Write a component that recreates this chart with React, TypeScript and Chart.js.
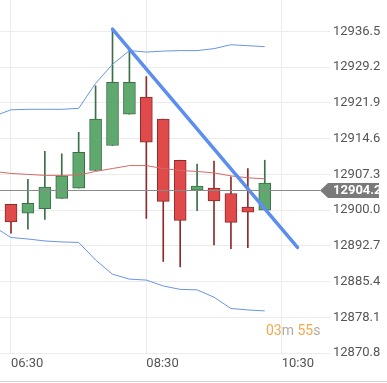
import React, { useEffect, useRef } from "react";
import { Chart, registerables } from "chart.js";
Chart.register(...registerables);

// ---- data ----
const candleTimes = ["06:30", "06:45", "07:00", "07:15", "07:30", "07:45", "08:00", "08:15", "08:30", "08:45", "09:00", "09:15", "09:30", "09:45", "10:00", "10:15"];
const opens = [12901.2, 12899.4, 12900.3, 12902.4, 12904.5, 12908.1, 12913.2, 12919.6, 12923.1, 12918.6, 12910.2, 12904.1, 12904.5, 12903.4, 12900.6, 12900.0];
const highs = [12901.2, 12906.3, 12912.0, 12911.5, 12915.9, 12925.4, 12937.0, 12932.7, 12927.3, 12918.6, 12910.2, 12909.4, 12910.0, 12906.8, 12908.5, 12910.2];
const lows = [12895.3, 12896.1, 12898.1, 12902.4, 12904.5, 12908.1, 12913.2, 12919.6, 12898.3, 12889.5, 12888.4, 12899.9, 12892.9, 12892.1, 12892.3, 12900.0];
const closes = [12897.6, 12901.4, 12904.7, 12907.0, 12911.8, 12918.6, 12926.1, 12926.1, 12913.9, 12901.8, 12897.9, 12904.9, 12901.9, 12897.5, 12899.6, 12905.5];

const bandTimes = ["06:15", "06:30", "06:45", "07:00", "07:15", "07:30", "07:45", "08:00", "08:15", "08:30", "08:45", "09:00", "09:15", "09:30", "09:45", "10:00", "10:15"];
const upperBand = [12919.2, 12920.5, 12920.6, 12920.6, 12920.6, 12920.8, 12925.9, 12929.8, 12932.6, 12932.3, 12932.5, 12932.6, 12932.6, 12933.0, 12933.8, 12933.6, 12933.4];
const middleBand = [12907.9, 12907.5, 12907.3, 12907.1, 12907.1, 12907.2, 12907.9, 12908.5, 12909.1, 12909.1, 12908.5, 12908.1, 12907.9, 12907.6, 12907.0, 12906.6, 12906.4];
const lowerBand = [12896.6, 12894.4, 12894.1, 12893.7, 12893.5, 12893.4, 12889.8, 12886.9, 12885.9, 12885.7, 12884.5, 12883.8, 12883.7, 12882.2, 12879.9, 12879.6, 12879.4];

const trendTimes = ["08:00", "10:44"];
const trendValues = [12937.0, 12892.4];

const yTickValues = [12870.8, 12878.1, 12885.4, 12892.7, 12900.0, 12907.3, 12914.6, 12921.9, 12929.2, 12936.5];
const xTickLabels = ["06:30", "08:30", "10:30"];
const currentPrice = 12904.2;
const countdownParts = [["03", "o"], ["m", "g"], [" 55", "o"], ["s", "g"]];

const X_MIN = 380.25;
const X_MAX = 668.4;
const Y_MIN = 12870.8;
const Y_MAX = 12942.94;

// ---- helpers ----
const toMin = (t: string) => {
  const [h, m] = t.split(":").map(Number);
  return h * 60 + m;
};
const fmtTime = (v: number) => {
  const h = Math.floor(v / 60);
  const m = Math.round(v - h * 60);
  return String(h).padStart(2, "0") + ":" + String(m).padStart(2, "0");
};

const GREEN = "#5fa96f";
const GREEN_DARK = "#3b6f47";
const RED = "#e04a4a";
const RED_DARK = "#8c2b2b";
const FONT = "Roboto";

export default function App() {
  const ref = useRef<HTMLCanvasElement | null>(null);

  useEffect(() => {
    if (!ref.current) return;
    const up = candleTimes.map((_, i) => closes[i] >= opens[i]);

    const overlay = {
      id: "overlay",
      afterDatasetsDraw(chart: any) {
        const { ctx, chartArea, scales } = chart;
        const y = scales.y;
        const py = Math.round(y.getPixelForValue(currentPrice)) + 0.5;
        ctx.save();
        ctx.strokeStyle = "#8a8a8a";
        ctx.lineWidth = 1;
        ctx.beginPath();
        ctx.moveTo(chartArea.left, py);
        ctx.lineTo(chartArea.right - 5, py);
        ctx.stroke();
        ctx.restore();
      },
      afterDraw(chart: any) {
        const { ctx, chartArea, scales } = chart;
        const y = scales.y;
        const py = Math.round(y.getPixelForValue(currentPrice)) + 0.5;
        ctx.save();
        const tip = chartArea.right - 5;
        const bx = tip + 8;
        const bw = 51;
        const bh = 15;
        ctx.fillStyle = "#7a7a7a";
        ctx.beginPath();
        ctx.moveTo(tip, py);
        ctx.lineTo(bx, py - bh / 2);
        ctx.lineTo(bx + bw, py - bh / 2);
        ctx.lineTo(bx + bw, py + bh / 2);
        ctx.lineTo(bx, py + bh / 2);
        ctx.closePath();
        ctx.fill();
        ctx.fillStyle = "#ffffff";
        ctx.font = "bold 13px " + FONT;
        ctx.textBaseline = "middle";
        ctx.textAlign = "left";
        ctx.fillText(currentPrice.toFixed(1), chartArea.right + 8, py + 0.5);

        ctx.font = "14px " + FONT;
        let cx = 266;
        const cy = 331;
        for (const [txt, c] of countdownParts) {
          ctx.fillStyle = c === "o" ? "#f0a94c" : "#b3aba0";
          ctx.fillText(txt, cx, cy);
          cx += ctx.measureText(txt).width;
        }

        ctx.strokeStyle = "#d0d0d0";
        ctx.lineWidth = 1;
        ctx.beginPath();
        ctx.moveTo(0, 381.5);
        ctx.lineTo(chart.width, 381.5);
        ctx.stroke();
        ctx.restore();
      },
    };

    const chart = new Chart(ref.current, {
      type: "bar",
      data: {
        datasets: [
          {
            type: "line",
            data: bandTimes.map((t, i) => ({ x: toMin(t), y: upperBand[i] })),
            borderColor: "#6b93e6",
            borderWidth: 1,
            pointRadius: 0,
            tension: 0,
            order: 1,
          },
          {
            type: "line",
            data: bandTimes.map((t, i) => ({ x: toMin(t), y: middleBand[i] })),
            borderColor: "#d46a66",
            borderWidth: 1,
            pointRadius: 0,
            tension: 0,
            order: 1,
          },
          {
            type: "line",
            data: bandTimes.map((t, i) => ({ x: toMin(t), y: lowerBand[i] })),
            borderColor: "#6b93e6",
            borderWidth: 1,
            pointRadius: 0,
            tension: 0,
            order: 1,
          },
          {
            type: "bar",
            data: candleTimes.map((t, i) => ({ x: toMin(t), y: [lows[i], highs[i]] })),
            backgroundColor: up.map((u) => (u ? GREEN_DARK : RED_DARK)),
            borderWidth: 0,
            barThickness: 1,
            grouped: false,
            order: 4,
          } as any,
          {
            type: "bar",
            data: candleTimes.map((t, i) => ({ x: toMin(t), y: [opens[i], closes[i]] })),
            backgroundColor: up.map((u) => (u ? GREEN : RED)),
            borderColor: up.map((u) => (u ? GREEN_DARK : RED_DARK)),
            borderWidth: 1,
            borderSkipped: false,
            barThickness: 12,
            grouped: false,
            order: 3,
          } as any,
          {
            type: "line",
            data: trendTimes.map((t, i) => ({ x: toMin(t), y: trendValues[i] })),
            borderColor: "#5b8ef0",
            borderWidth: 3.5,
            borderCapStyle: "round",
            pointRadius: 0,
            order: 0,
          } as any,
        ],
      },
      options: {
        animation: false,
        responsive: false,
        devicePixelRatio: 1,
        layout: { padding: 0 },
        plugins: { legend: { display: false }, tooltip: { enabled: false } },
        scales: {
          x: {
            type: "linear",
            min: X_MIN,
            max: X_MAX,
            offset: false,
            afterBuildTicks: (s: any) => {
              s.ticks = xTickLabels.map((t) => ({ value: toMin(t) }));
            },
            afterFit: (s: any) => {
              s.height = 30;
              s.paddingLeft = 0;
              s.paddingRight = 0;
            },
            ticks: {
              align: "start",
              autoSkip: false,
              maxRotation: 0,
              padding: 3,
              color: "#555",
              font: { family: FONT, size: 13 },
              callback: (v: any) => fmtTime(Number(v)),
            },
            grid: { color: "#ececec", drawTicks: false, offset: false },
            border: { display: false },
          },
          y: {
            type: "linear",
            position: "right",
            min: Y_MIN,
            max: Y_MAX,
            afterBuildTicks: (s: any) => {
              s.ticks = yTickValues.map((v) => ({ value: v }));
            },
            afterFit: (s: any) => {
              s.width = 62;
              s.paddingTop = 0;
              s.paddingBottom = 0;
            },
            ticks: {
              padding: 3,
              color: "#555",
              font: { family: FONT, size: 13 },
              callback: (v: any) => Number(v).toFixed(1),
            },
            grid: { color: "#ececec", tickLength: 5 },
            border: { display: false },
          },
        },
      } as any,
      plugins: [overlay],
    });
    return () => chart.destroy();
  }, []);

  return (
    <div style={{ position: "absolute", left: 0, top: 0, width: 387, height: 383, background: "#fff" }}>
      <canvas ref={ref} width={387} height={383} style={{ display: "block" }} />
    </div>
  );
}
